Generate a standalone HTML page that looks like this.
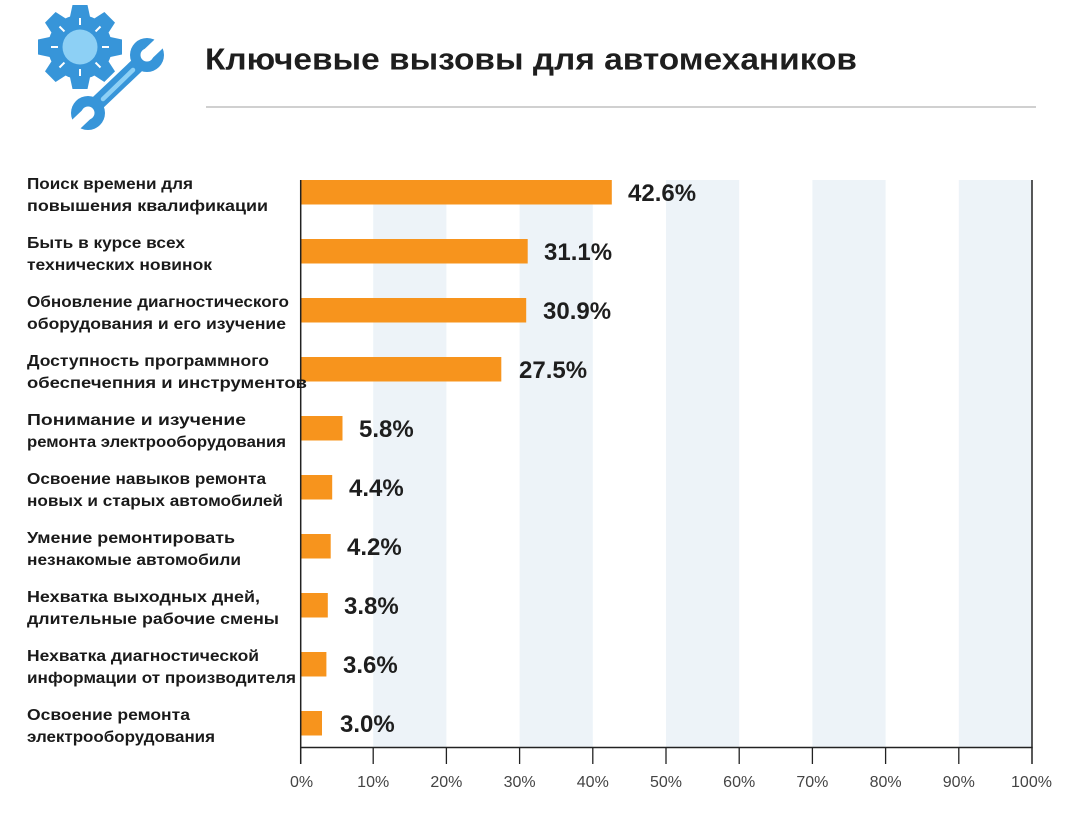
<!DOCTYPE html>
<html>
<head>
<meta charset="utf-8">
<style>
html,body{margin:0;padding:0;background:#fff;}
svg{display:block;}
</style>
</head>
<body>
<svg width="1083" height="819" viewBox="0 0 1083 819" xmlns="http://www.w3.org/2000/svg">
<rect width="1083" height="819" fill="#fff"/>

<!-- Icon: gear -->
<g transform="translate(80,47)" fill="#3795d9">
  <circle r="32"/>
  <g>
    <polygon points="-10.5,-28 10.5,-28 7.5,-42 -7.5,-42"/>
    <polygon points="-10.5,-28 10.5,-28 7.5,-42 -7.5,-42" transform="rotate(45)"/>
    <polygon points="-10.5,-28 10.5,-28 7.5,-42 -7.5,-42" transform="rotate(90)"/>
    <polygon points="-10.5,-28 10.5,-28 7.5,-42 -7.5,-42" transform="rotate(135)"/>
    <polygon points="-10.5,-28 10.5,-28 7.5,-42 -7.5,-42" transform="rotate(180)"/>
    <polygon points="-10.5,-28 10.5,-28 7.5,-42 -7.5,-42" transform="rotate(225)"/>
    <polygon points="-10.5,-28 10.5,-28 7.5,-42 -7.5,-42" transform="rotate(270)"/>
    <polygon points="-10.5,-28 10.5,-28 7.5,-42 -7.5,-42" transform="rotate(315)"/>
  </g>
  <circle r="17.5" fill="#8dd0f5"/>
  <g stroke="#fff" stroke-width="2">
    <line x1="0" y1="-22" x2="0" y2="-29"/>
    <line x1="0" y1="-22" x2="0" y2="-29" transform="rotate(45)"/>
    <line x1="0" y1="-22" x2="0" y2="-29" transform="rotate(90)"/>
    <line x1="0" y1="-22" x2="0" y2="-29" transform="rotate(135)"/>
    <line x1="0" y1="-22" x2="0" y2="-29" transform="rotate(180)"/>
    <line x1="0" y1="-22" x2="0" y2="-29" transform="rotate(225)"/>
    <line x1="0" y1="-22" x2="0" y2="-29" transform="rotate(270)"/>
    <line x1="0" y1="-22" x2="0" y2="-29" transform="rotate(315)"/>
  </g>
</g>

<!-- Icon: wrench -->
<g>
  <line x1="88" y1="112" x2="147" y2="56" stroke="#fff" stroke-width="21" stroke-linecap="round"/>
  <line x1="88" y1="112" x2="147" y2="56" stroke="#3795d9" stroke-width="15" stroke-linecap="round"/>
  <circle cx="147" cy="55" r="17" fill="#3795d9"/>
  <circle cx="88" cy="113" r="17" fill="#3795d9"/>
  <g transform="translate(147,55) rotate(-43.5)" fill="#fff">
    <rect x="0" y="-6" width="22" height="12"/>
    <circle r="6.5"/>
  </g>
  <g transform="translate(88,113) rotate(136.5)" fill="#fff">
    <rect x="0" y="-6" width="22" height="12"/>
    <circle r="6.5"/>
  </g>
  <line x1="103" y1="99" x2="133" y2="70" stroke="#8dd0f5" stroke-width="4.5" stroke-linecap="round"/>
</g>

<!-- Title -->
<text x="205" y="69.5" font-family="Liberation Sans, sans-serif" font-weight="bold" font-size="31" fill="#1e1e1e" textLength="652" lengthAdjust="spacingAndGlyphs">Ключевые вызовы для автомехаников</text>
<line x1="206" y1="107" x2="1036" y2="107" stroke="#b4b4b4" stroke-width="1.2"/>

<!-- Bands -->
<g fill="#edf3f8">
  <rect x="373.2" y="180" width="73.2" height="567"/>
  <rect x="519.6" y="180" width="73.2" height="567"/>
  <rect x="666" y="180" width="73.2" height="567"/>
  <rect x="812.4" y="180" width="73.2" height="567"/>
  <rect x="958.8" y="180" width="73.2" height="567"/>
</g>

<!-- Bars -->
<g fill="#f7941d">
  <rect x="300" y="180" width="311.8" height="24.5"/>
  <rect x="300" y="239" width="227.7" height="24.5"/>
  <rect x="300" y="298" width="226.2" height="24.5"/>
  <rect x="300" y="357" width="201.3" height="24.5"/>
  <rect x="300" y="416" width="42.5" height="24.5"/>
  <rect x="300" y="475" width="32.2" height="24.5"/>
  <rect x="300" y="534" width="30.7" height="24.5"/>
  <rect x="300" y="593" width="27.8" height="24.5"/>
  <rect x="300" y="652" width="26.4" height="24.5"/>
  <rect x="300" y="711" width="22" height="24.5"/>
</g>

<!-- Value labels -->
<g font-family="Liberation Sans, sans-serif" font-weight="bold" font-size="24" fill="#1e1e1e">
  <text x="628" y="201">42.6%</text>
  <text x="544" y="260">31.1%</text>
  <text x="543" y="319">30.9%</text>
  <text x="519" y="378">27.5%</text>
  <text x="359" y="437">5.8%</text>
  <text x="349" y="496">4.4%</text>
  <text x="347" y="555">4.2%</text>
  <text x="344" y="614">3.8%</text>
  <text x="343" y="673">3.6%</text>
  <text x="340" y="732">3.0%</text>
</g>

<!-- Axes -->
<line x1="300.7" y1="180" x2="300.7" y2="764" stroke="#222" stroke-width="1.5"/>
<line x1="1032" y1="180" x2="1032" y2="764" stroke="#222" stroke-width="1.5"/>
<line x1="300" y1="747.5" x2="1032.7" y2="747.5" stroke="#222" stroke-width="1.5"/>
<g stroke="#222" stroke-width="1.3">
  <line x1="373.2" y1="747" x2="373.2" y2="764"/>
  <line x1="446.4" y1="747" x2="446.4" y2="764"/>
  <line x1="519.6" y1="747" x2="519.6" y2="764"/>
  <line x1="592.8" y1="747" x2="592.8" y2="764"/>
  <line x1="666" y1="747" x2="666" y2="764"/>
  <line x1="739.2" y1="747" x2="739.2" y2="764"/>
  <line x1="812.4" y1="747" x2="812.4" y2="764"/>
  <line x1="885.6" y1="747" x2="885.6" y2="764"/>
  <line x1="958.8" y1="747" x2="958.8" y2="764"/>
</g>
<g font-family="Liberation Sans, sans-serif" font-size="16" fill="#444" text-anchor="middle">
  <text x="301.5" y="787">0%</text>
  <text x="373.2" y="787">10%</text>
  <text x="446.4" y="787">20%</text>
  <text x="519.6" y="787">30%</text>
  <text x="592.8" y="787">40%</text>
  <text x="666" y="787">50%</text>
  <text x="739.2" y="787">60%</text>
  <text x="812.4" y="787">70%</text>
  <text x="885.6" y="787">80%</text>
  <text x="958.8" y="787">90%</text>
  <text x="1031.5" y="787">100%</text>
</g>

<!-- Category labels -->
<g font-family="Liberation Sans, sans-serif" font-weight="bold" font-size="15.5" fill="#1a1a1a">
  <text x="27" y="189" textLength="166" lengthAdjust="spacingAndGlyphs">Поиск времени для</text>
  <text x="27" y="211" textLength="241" lengthAdjust="spacingAndGlyphs">повышения квалификации</text>
  <text x="27" y="248" textLength="158" lengthAdjust="spacingAndGlyphs">Быть в курсе всех</text>
  <text x="27" y="270" textLength="185" lengthAdjust="spacingAndGlyphs">технических новинок</text>
  <text x="27" y="307" textLength="262" lengthAdjust="spacingAndGlyphs">Обновление диагностического</text>
  <text x="27" y="329" textLength="259" lengthAdjust="spacingAndGlyphs">оборудования и его изучение</text>
  <text x="27" y="366" textLength="242" lengthAdjust="spacingAndGlyphs">Доступность программного</text>
  <text x="27" y="388" textLength="280" lengthAdjust="spacingAndGlyphs">обеспечепния и инструментов</text>
  <text x="27" y="425" textLength="219" lengthAdjust="spacingAndGlyphs">Понимание и изучение</text>
  <text x="27" y="447" textLength="259" lengthAdjust="spacingAndGlyphs">ремонта электрооборудования</text>
  <text x="27" y="484" textLength="239" lengthAdjust="spacingAndGlyphs">Освоение навыков ремонта</text>
  <text x="27" y="506" textLength="256" lengthAdjust="spacingAndGlyphs">новых и старых автомобилей</text>
  <text x="27" y="543" textLength="208" lengthAdjust="spacingAndGlyphs">Умение ремонтировать</text>
  <text x="27" y="565" textLength="214" lengthAdjust="spacingAndGlyphs">незнакомые автомобили</text>
  <text x="27" y="602" textLength="233" lengthAdjust="spacingAndGlyphs">Нехватка выходных дней,</text>
  <text x="27" y="624" textLength="252" lengthAdjust="spacingAndGlyphs">длительные рабочие смены</text>
  <text x="27" y="661" textLength="232" lengthAdjust="spacingAndGlyphs">Нехватка диагностической</text>
  <text x="27" y="683" textLength="269" lengthAdjust="spacingAndGlyphs">информации от производителя</text>
  <text x="27" y="720" textLength="163" lengthAdjust="spacingAndGlyphs">Освоение ремонта</text>
  <text x="27" y="742" textLength="188" lengthAdjust="spacingAndGlyphs">электрооборудования</text>
</g>
</svg>
</body>
</html>
